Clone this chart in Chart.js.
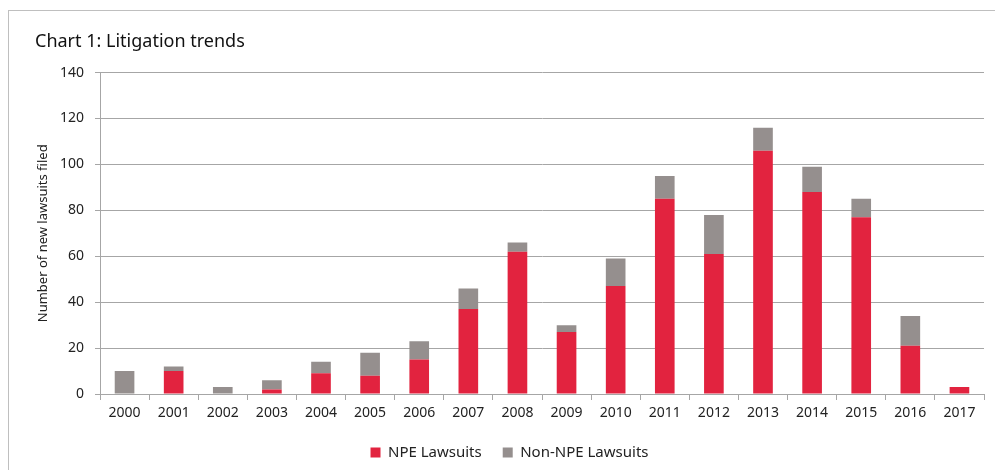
<!DOCTYPE html>
<html>
<head>
<meta charset="utf-8">
<script src="https://cdn.jsdelivr.net/npm/chart.js@4"></script>
<style>
  html, body { margin: 0; padding: 0; background: #fff; }
  #wrap { position: relative; width: 995px; height: 470px; overflow: hidden; }
  #frame { position: absolute; left: 8px; top: 10px; width: 1100px; height: 600px; border: 1px solid #BFBFBF; box-sizing: border-box; }
  canvas { position: absolute; left: 0; top: 0; }
</style>
</head>
<body>
<div id="wrap">
  <div id="frame"></div>
  <canvas id="c" width="995" height="470"></canvas>
</div>
<script>
const years = ['2000','2001','2002','2003','2004','2005','2006','2007','2008','2009','2010','2011','2012','2013','2014','2015','2016','2017'];
const npeLawsuits = [0, 10, 0, 2, 9, 8, 15, 37, 62, 27, 47, 85, 61, 106, 88, 77, 21, 3];
const nonNpeLawsuits = [10, 2, 3, 4, 5, 10, 8, 9, 4, 3, 12, 10, 17, 10, 11, 8, 13, 0];
const yTicks = [0, 20, 40, 60, 80, 100, 120, 140];

const RED = '#E2233F';
const GRAY = '#958F8E';
const FONT = "'Noto Sans', sans-serif";

new Chart(document.getElementById('c'), {
  type: 'bar',
  data: {
    labels: years,
    datasets: [
      { label: 'NPE Lawsuits', data: npeLawsuits, backgroundColor: RED, barPercentage: 0.4, categoryPercentage: 1.0 },
      { label: 'Non-NPE Lawsuits', data: nonNpeLawsuits, backgroundColor: GRAY, barPercentage: 0.4, categoryPercentage: 1.0 }
    ]
  },
  options: {
    responsive: false,
    animation: false,
    layout: { padding: { left: 35, right: 11, top: 31, bottom: 0 } },
    plugins: {
      title: {
        display: true,
        text: 'Chart 1: Litigation trends',
        align: 'start',
        color: '#111',
        font: { family: FONT, size: 18, weight: 'normal' },
        padding: { top: 0, bottom: 20 }
      },
      legend: {
        position: 'bottom',
        labels: {
          color: '#222',
          font: { family: FONT, size: 15 },
          boxWidth: 10,
          boxHeight: 10,
          padding: 21
        }
      },
      tooltip: { enabled: false }
    },
    scales: {
      x: {
        stacked: true,
        grid: { display: true, drawOnChartArea: false, drawTicks: true, tickLength: 6, offset: true, color: '#A6A6A6' },
        border: { color: '#A6A6A6', width: 1 },
        ticks: { color: '#222', font: { family: FONT, size: 14 }, padding: 5, maxRotation: 0, autoSkip: false },
        afterFit: (s) => { s.height = 30; }
      },
      y: {
        stacked: true,
        min: 0,
        max: 140,
        afterBuildTicks: (s) => { s.ticks = yTicks.map(v => ({ value: v })); },
        grid: { color: '#A6A6A6', tickLength: 5 },
        border: { color: '#A6A6A6', width: 1 },
        ticks: { color: '#222', font: { family: FONT, size: 14 }, padding: 11 },
        title: {
          display: true,
          text: 'Number of new lawsuits filed',
          color: '#222',
          font: { family: FONT, size: 13 },
          padding: { top: 0, bottom: 4 }
        },
        afterFit: (s) => { s.width = 65; }
      }
    }
  }
});
</script>
</body>
</html>
